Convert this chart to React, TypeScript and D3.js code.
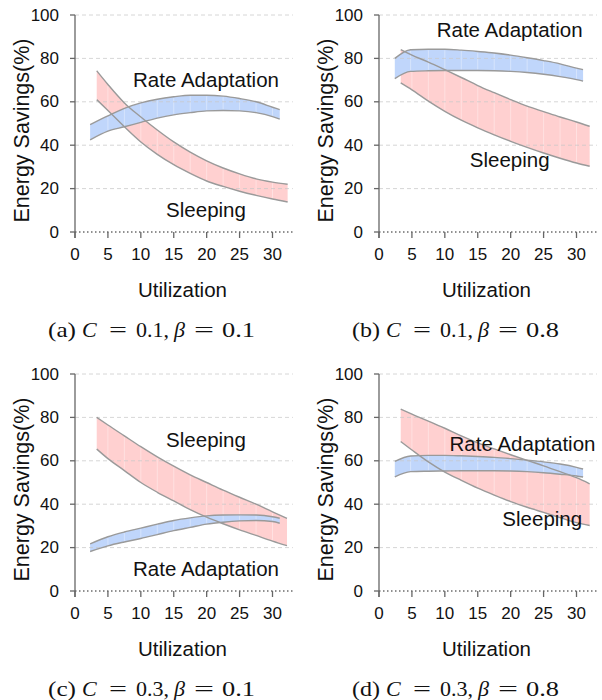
import React from "react";
import * as d3 from "d3";

// ---- tick labels ----
const xTicks = [0, 5, 10, 15, 20, 25, 30];
const yTicks = [0, 20, 40, 60, 80, 100];

// ---- panel (a) C=0.1, beta=0.1 ----
const aSleepX = [3.3, 5, 7.5, 10, 12.5, 15, 17.5, 20, 22.5, 25, 27.5, 30, 32.3];
const aSleepHi = [74.3, 68, 59.5, 53, 47, 41.5, 36.8, 32.8, 29.5, 26.8, 24.5, 23, 22];
const aSleepLo = [61, 56, 48.5, 41.5, 35.8, 31, 27, 23.5, 21, 18.8, 16.9, 15.2, 13.8];
const aRateX = [2.3, 5, 7.5, 10, 12.5, 15, 17.5, 20, 22.5, 25, 27.5, 30, 31.1];
const aRateHi = [49.5, 53.5, 57, 59.5, 61.2, 62.3, 63, 63, 62.6, 61.5, 60, 57.5, 56.4];
const aRateLo = [42.5, 46.5, 48.5, 50.5, 52.5, 54, 55, 55.8, 56, 55.8, 55, 53.2, 52];

// ---- panel (b) C=0.1, beta=0.8 ----
const bSleepX = [3.3, 5, 7.5, 10, 12.5, 15, 17.5, 20, 22.5, 25, 27.5, 30, 32];
const bSleepHi = [84, 81.5, 78.3, 74.8, 71.2, 67.5, 64.2, 61, 58, 55.5, 53, 50.7, 48.7];
const bSleepLo = [68.7, 65.5, 60.3, 55.6, 51.5, 48, 44.8, 41.8, 39, 36.4, 34, 31.8, 30.3];
const bRateX = [2.4, 4.8, 7.5, 10, 12.5, 15, 17.5, 20, 22.5, 25, 27.5, 30, 31];
const bRateHi = [80, 84, 84.2, 84.2, 83.8, 83.2, 82.5, 81.5, 80.3, 79, 77.5, 75.5, 74.8];
const bRateLo = [70.7, 74, 74.3, 74.4, 74.4, 74.4, 74.3, 74, 73.5, 72.7, 71.6, 70.2, 69.5];

// ---- panel (c) C=0.3, beta=0.1 ----
const cSleepX = [3.3, 5, 7.5, 10, 12.5, 15, 17.5, 20, 22.5, 25, 27.5, 30, 32.2];
const cSleepHi = [80, 76.5, 71.5, 66.5, 61.8, 57.5, 53.5, 50, 46.5, 43.2, 40, 36.5, 33.5];
const cSleepLo = [65.4, 61, 55.5, 50, 45.5, 41.5, 37.5, 34, 31, 28.2, 25.6, 23, 20.9];
const cRateX = [2.3, 5, 7.5, 10, 12.5, 15, 17.5, 20, 22.5, 25, 27.5, 30, 31.1];
const cRateHi = [21.7, 25, 27.2, 29, 30.8, 32.5, 33.7, 34.6, 35, 35.1, 35, 34.2, 33.5];
const cRateLo = [18.2, 20.8, 22.6, 24.2, 26, 27.8, 29.3, 30.8, 31.7, 32.3, 32.5, 32, 31.2];

// ---- panel (d) C=0.3, beta=0.8 ----
const dSleepX = [3.3, 5, 7.5, 10, 12.5, 15, 17.5, 20, 22.5, 25, 27.5, 30, 32];
const dSleepHi = [83.8, 81.5, 78.3, 75, 71.5, 68.3, 65.5, 62.8, 60.2, 57.7, 55, 52.2, 49.4];
const dSleepLo = [68.9, 65, 59.5, 54.8, 51, 47.4, 44.2, 41.2, 38.6, 36.2, 33.8, 31.5, 30.2];
const dRateX = [2.4, 4.8, 7.5, 10, 12.5, 15, 17.5, 20, 22.5, 25, 27.5, 30, 31];
const dRateHi = [59.7, 62.2, 62.5, 62.5, 62.3, 62, 61.6, 61, 60.3, 59.5, 58.5, 57, 56.2];
const dRateLo = [52.6, 55, 55.2, 55.3, 55.4, 55.4, 55.4, 55.3, 55, 54.5, 53.8, 53, 52.5];

// ---- captions ----
const capLetters = ["a", "b", "c", "d"];
const capC = ["0.1", "0.1", "0.3", "0.3"];
const capBeta = ["0.1", "0.8", "0.1", "0.8"];

const SANS = "'Liberation Sans', Arial, Helvetica, sans-serif";
const SERIF = "'Liberation Serif', 'Times New Roman', serif";
const PINK = "#ffd0d0";
const BLUE = "#c0d6fb";
const EDGE = "#9a9a9a";
const INK = "#111";

const PW = 197.5; // px for 30 units
const PH = 217; // px for 100 units
const PLOT_END = 33.1; // x domain extent of grid / axis

type BandData = { x: number[]; hi: number[]; lo: number[] };

const mk = (x: number[], hi: number[], lo: number[]): BandData => ({ x, hi, lo });

const panels = [
  {
    ox: 75, oy: 15,
    sleep: mk(aSleepX, aSleepHi, aSleepLo),
    rate: mk(aRateX, aRateHi, aRateLo),
    rateLabel: [19.9, 66.8], sleepLabel: [19.9, 6.9],
  },
  {
    ox: 379, oy: 15,
    sleep: mk(bSleepX, bSleepHi, bSleepLo),
    rate: mk(bRateX, bRateHi, bRateLo),
    rateLabel: [19.85, 89.9], sleepLabel: [19.85, 30],
  },
  {
    ox: 75, oy: 374,
    sleep: mk(cSleepX, cSleepHi, cSleepLo),
    rate: mk(cRateX, cRateHi, cRateLo),
    rateLabel: [19.9, 6.9], sleepLabel: [19.9, 66.4],
  },
  {
    ox: 379, oy: 374,
    sleep: mk(dSleepX, dSleepHi, dSleepLo),
    rate: mk(dRateX, dRateHi, dRateLo),
    rateLabel: [21.8, 64.5], sleepLabel: [24.8, 30],
  },
];

function Caption({ left, baseline, idx }: { left: number; baseline: number; idx: number }) {
  const segs: { t: string; dx: number; w?: number; it: boolean }[] = [
    { t: `(${capLetters[idx]})`, dx: 0, w: 28, it: false },
    { t: "C", dx: 34, it: true },
    { t: "=", dx: 61, w: 18, it: false },
    { t: `${capC[idx]},`, dx: 88, it: false },
    { t: "β", dx: 126, it: true },
    { t: "=", dx: 146, w: 20, it: false },
    { t: capBeta[idx], dx: 174, w: 33, it: false },
  ];
  return (
    <g>
      {segs.map((s, i) => (
        <text
          key={i}
          x={left + s.dx}
          y={baseline}
          fontFamily={SERIF}
          fontSize={22}
          fontStyle={s.it ? "italic" : "normal"}
          fill={INK}
          {...(s.w ? { textLength: s.w, lengthAdjust: "spacingAndGlyphs" } : {})}
        >
          {s.t}
        </text>
      ))}
    </g>
  );
}

function Panel({ p, idx }: { p: (typeof panels)[number]; idx: number }) {
  const x = d3.scaleLinear().domain([0, 30]).range([p.ox, p.ox + PW]);
  const y = d3.scaleLinear().domain([0, 100]).range([p.oy + PH, p.oy]);
  const xEnd = x(PLOT_END);

  const area = (b: BandData) =>
    d3
      .area<number>()
      .x((_, i) => x(b.x[i]))
      .y0((_, i) => y(b.lo[i]))
      .y1((_, i) => y(b.hi[i]))
      .curve(d3.curveMonotoneX)(b.x) || "";
  const line = (xs: number[], ys: number[]) =>
    d3
      .line<number>()
      .x((_, i) => x(xs[i]))
      .y((_, i) => y(ys[i]))
      .curve(d3.curveMonotoneX)(xs) || "";

  const seams = (b: BandData, key: string) =>
    b.x.slice(1, -1).map((v, i) => (
      <line
        key={key + i}
        x1={x(v)}
        x2={x(v)}
        y1={y(b.lo[i + 1]) - 1}
        y2={y(b.hi[i + 1]) + 1}
        stroke="#fff"
        strokeOpacity={0.45}
        strokeWidth={0.8}
      />
    ));

  const y0 = y(0);
  const cy = (y(0) + y(100)) / 2 + 7;

  return (
    <g>
      {/* bands */}
      <path d={area(p.sleep)} fill={PINK} />
      {seams(p.sleep, "ss")}
      <path d={area(p.rate)} fill={BLUE} />
      {seams(p.rate, "rs")}
      {/* grid */}
      {yTicks
        .filter((t) => t > 0)
        .map((t) => (
          <line
            key={"g" + t}
            x1={p.ox}
            x2={xEnd}
            y1={y(t)}
            y2={y(t)}
            stroke="#c8c8c8"
            strokeOpacity={0.75}
            strokeWidth={1}
            strokeDasharray="4,3"
          />
        ))}
      {[
        line(p.sleep.x, p.sleep.hi),
        line(p.sleep.x, p.sleep.lo),
        line(p.rate.x, p.rate.hi),
        line(p.rate.x, p.rate.lo),
      ].map((d, i) => (
        <path key={"l" + i} d={d} fill="none" stroke={EDGE} strokeWidth={1.4} />
      ))}
      {/* x axis dotted */}
      <line x1={p.ox} x2={xEnd} y1={y0} y2={y0} stroke="#222" strokeWidth={1} strokeDasharray="1.5,2.5" />
      {/* y axis */}
      <line x1={p.ox} x2={p.ox} y1={y(100)} y2={y0 + 6} stroke="#666" strokeWidth={1.3} />
      {yTicks.map((t) => (
        <g key={"y" + t}>
          <line x1={p.ox - 5} x2={p.ox} y1={y(t)} y2={y(t)} stroke="#666" strokeWidth={1.3} />
          <text
            x={p.ox - 16}
            y={y(t)}
            textAnchor="end"
            dominantBaseline="central"
            fontFamily={SANS}
            fontSize={17}
            fill={INK}
          >
            {t}
          </text>
        </g>
      ))}
      {xTicks.map((t) => (
        <g key={"x" + t}>
          <line x1={x(t)} x2={x(t)} y1={y0} y2={y0 + 6} stroke="#666" strokeWidth={1.3} />
          <text x={x(t)} y={y0 + 28} textAnchor="middle" fontFamily={SANS} fontSize={17} fill={INK}>
            {t}
          </text>
        </g>
      ))}
      {/* axis titles */}
      <text
        x={p.ox + 107.5}
        y={y0 + 64.5}
        textAnchor="middle"
        fontFamily={SANS}
        fontSize={20.5}
        fill={INK}
      >
        Utilization
      </text>
      <text
        transform={`translate(${p.ox - 46},${cy}) rotate(-90)`}
        textAnchor="middle"
        fontFamily={SANS}
        fontSize={21.5}
        fill={INK}
      >
        Energy Savings(%)
      </text>
      {/* annotations */}
      <text
        x={x(p.rateLabel[0])}
        y={y(p.rateLabel[1])}
        textAnchor="middle"
        fontFamily={SANS}
        fontSize={20.5}
        fill={INK}
      >
        Rate Adaptation
      </text>
      <text
        x={x(p.sleepLabel[0])}
        y={y(p.sleepLabel[1])}
        textAnchor="middle"
        fontFamily={SANS}
        fontSize={20.5}
        fill={INK}
      >
        Sleeping
      </text>
      <Caption left={p.ox - 27} baseline={p.oy + 322} idx={idx} />
    </g>
  );
}

export default function App() {
  return (
    <svg
      width={602}
      height={700}
      viewBox="0 0 602 700"
      style={{ position: "absolute", left: 0, top: 0, display: "block", background: "#fff" }}
    >
      <rect width={602} height={700} fill="#fff" />
      {panels.map((p, i) => (
        <Panel key={i} p={p} idx={i} />
      ))}
    </svg>
  );
}
